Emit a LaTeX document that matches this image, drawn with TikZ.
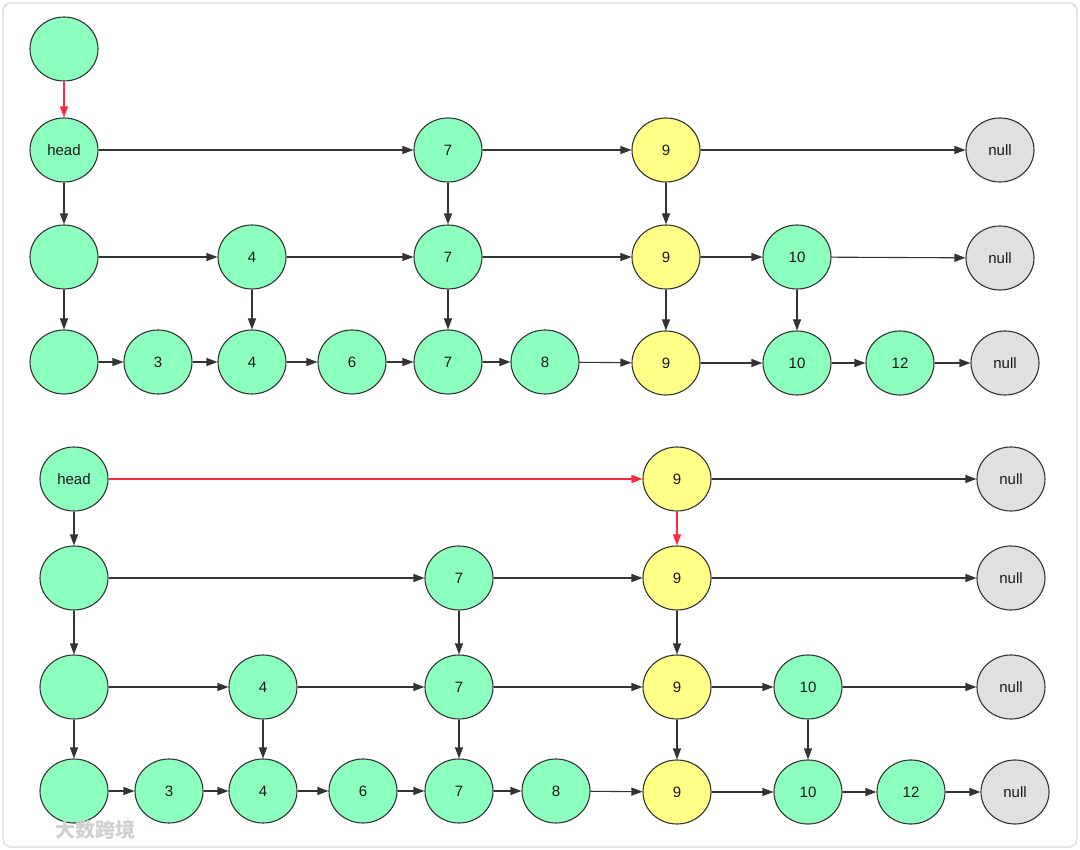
\documentclass[tikz,border=0pt]{standalone}
\usepackage{fontspec}
\setmainfont{Liberation Sans}
\newfontfamily\cjkfont{Noto Sans CJK SC}
\usetikzlibrary{shapes.geometric,arrows.meta}
\definecolor{nodegreen}{HTML}{8CFFBE}
\definecolor{nodeyellow}{HTML}{FFFF88}
\definecolor{nodegray}{HTML}{E0E0E0}
\definecolor{edgecol}{HTML}{333333}
\definecolor{redcol}{HTML}{FF2A3C}
\definecolor{framecol}{HTML}{DADADA}
\tikzset{
  base/.style={ellipse,draw=edgecol,line width=1.1pt,minimum width=68pt,minimum height=64pt,inner sep=0pt,font=\fontsize{15}{15}\selectfont,text=black!90},
  gn/.style={base,fill=nodegreen},
  yn/.style={base,fill=nodeyellow},
  nn/.style={base,fill=nodegray},
  link/.style={draw=edgecol,line width=1.1pt,-{Triangle[length=11pt,width=8pt]}},
  redlink/.style={draw=redcol,line width=1.2pt,-{Triangle[length=11pt,width=8pt]}},
}
\begin{document}
\begin{tikzpicture}[x=1pt,y=-1pt]
\fill[white] (0,0) rectangle (1080,850);
\useasboundingbox (0,0) rectangle (1080,850);
\draw[framecol,line width=1.2pt,rounded corners=8pt] (3,3) rectangle (1077,847);

% ---------- top diagram ----------
\node[gn] (t0) at (64,49) {};
\node[gn] (th) at (64,150) {head};
\node[gn] (t17) at (448,150) {7};
\node[yn] (t19) at (666,150) {9};
\node[nn] (t1n) at (1000,150) {null};

\node[gn] (t2e) at (64,257) {};
\node[gn] (t24) at (252,257) {4};
\node[gn] (t27) at (448,257) {7};
\node[yn] (t29) at (666,257) {9};
\node[gn] (t210) at (797,257) {10};
\node[nn] (t2n) at (1000,258) {null};

\node[gn] (t3e) at (64,362) {};
\node[gn] (t33) at (158,362) {3};
\node[gn] (t34) at (252,362) {4};
\node[gn] (t36) at (352,362) {6};
\node[gn] (t37) at (448,362) {7};
\node[gn] (t38) at (545,362) {8};
\node[yn] (t39) at (666,363) {9};
\node[gn] (t310) at (797,363) {10};
\node[gn] (t312) at (900,363) {12};
\node[nn] (t3n) at (1005,363) {null};

\draw[redlink] (t0) -- (th);
\draw[link] (th) -- (t17);
\draw[link] (t17) -- (t19);
\draw[link] (t19) -- (t1n);
\draw[link] (th) -- (t2e);
\draw[link] (t17) -- (t27);
\draw[link] (t19) -- (t29);
\draw[link] (t2e) -- (t24);
\draw[link] (t24) -- (t27);
\draw[link] (t27) -- (t29);
\draw[link] (t29) -- (t210);
\draw[link] (t210) -- (t2n);
\draw[link] (t2e) -- (t3e);
\draw[link] (t24) -- (t34);
\draw[link] (t27) -- (t37);
\draw[link] (t29) -- (t39);
\draw[link] (t210) -- (t310);
\draw[link] (t3e) -- (t33);
\draw[link] (t33) -- (t34);
\draw[link] (t34) -- (t36);
\draw[link] (t36) -- (t37);
\draw[link] (t37) -- (t38);
\draw[link] (t38) -- (t39);
\draw[link] (t39) -- (t310);
\draw[link] (t310) -- (t312);
\draw[link] (t312) -- (t3n);

% ---------- bottom diagram ----------
\node[gn] (bh) at (74,479) {head};
\node[yn] (b19) at (677,479) {9};
\node[nn] (b1n) at (1011,479) {null};

\node[gn] (b2e) at (74,578) {};
\node[gn] (b27) at (459,578) {7};
\node[yn] (b29) at (677,578) {9};
\node[nn] (b2n) at (1011,578) {null};

\node[gn] (b3e) at (74,687) {};
\node[gn] (b34) at (263,687) {4};
\node[gn] (b37) at (459,687) {7};
\node[yn] (b39) at (677,687) {9};
\node[gn] (b310) at (808,687) {10};
\node[nn] (b3n) at (1011,687) {null};

\node[gn] (b4e) at (74,791) {};
\node[gn] (b43) at (169,791) {3};
\node[gn] (b44) at (263,791) {4};
\node[gn] (b46) at (363,791) {6};
\node[gn] (b47) at (459,791) {7};
\node[gn] (b48) at (556,791) {8};
\node[yn] (b49) at (677,792) {9};
\node[gn] (b410) at (808,792) {10};
\node[gn] (b412) at (911,792) {12};
\node[nn] (b4n) at (1015,792) {null};

\draw[redlink] (bh) -- (b19);
\draw[redlink] (b19) -- (b29);
\draw[link] (b19) -- (b1n);
\draw[link] (bh) -- (b2e);
\draw[link] (b2e) -- (b27);
\draw[link] (b27) -- (b29);
\draw[link] (b29) -- (b2n);
\draw[link] (b2e) -- (b3e);
\draw[link] (b27) -- (b37);
\draw[link] (b29) -- (b39);
\draw[link] (b3e) -- (b34);
\draw[link] (b34) -- (b37);
\draw[link] (b37) -- (b39);
\draw[link] (b39) -- (b310);
\draw[link] (b310) -- (b3n);
\draw[link] (b3e) -- (b4e);
\draw[link] (b34) -- (b44);
\draw[link] (b37) -- (b47);
\draw[link] (b39) -- (b49);
\draw[link] (b310) -- (b410);
\draw[link] (b4e) -- (b43);
\draw[link] (b43) -- (b44);
\draw[link] (b44) -- (b46);
\draw[link] (b46) -- (b47);
\draw[link] (b47) -- (b48);
\draw[link] (b48) -- (b49);
\draw[link] (b49) -- (b410);
\draw[link] (b410) -- (b412);
\draw[link] (b412) -- (b4n);

% watermark
\node[font=\cjkfont\bfseries\fontsize{20}{20}\selectfont,text=black!18,inner sep=0pt] (wm) at (96,830) {大数跨境};
\end{tikzpicture}
\end{document}
